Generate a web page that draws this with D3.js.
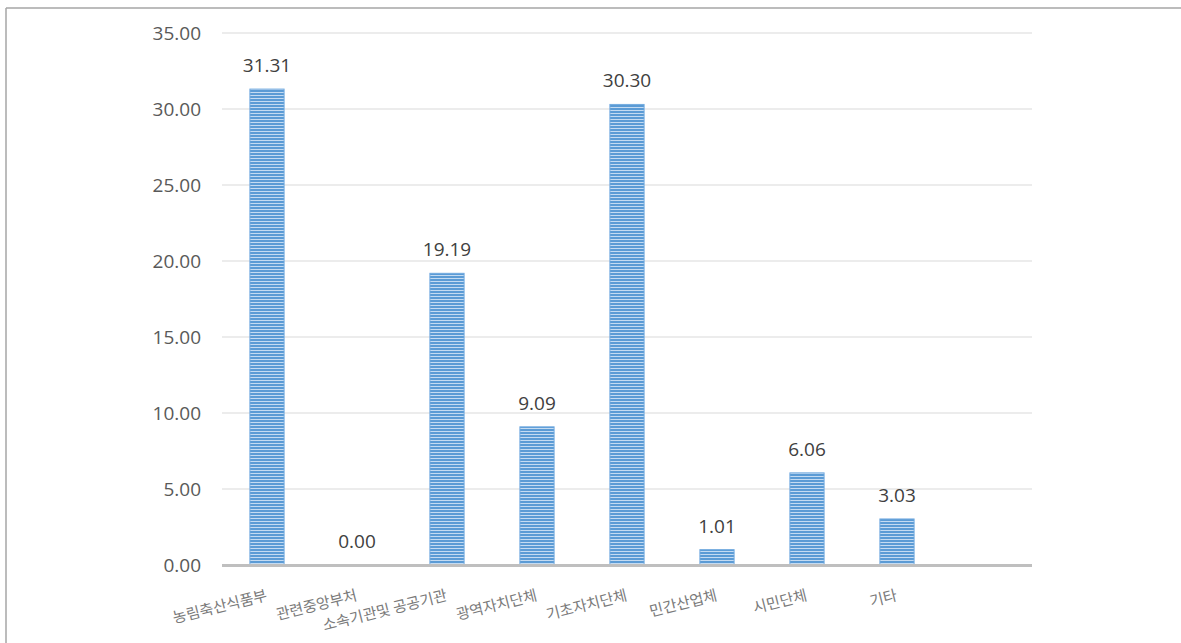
<!DOCTYPE html>
<html>
<head>
<meta charset="utf-8">
<script src="https://cdn.jsdelivr.net/npm/d3@7"></script>
<style>
  html, body { margin: 0; padding: 0; background: #fff; }
  svg { display: block; }
</style>
</head>
<body>
<svg id="chart" width="1181" height="643"></svg>
<script>
// Categories (the last slot is an empty placeholder in the category axis)
const categories = ["농림축산식품부", "관련중앙부처", "소속기관및 공공기관", "광역자치단체", "기초자치단체", "민간산업체", "시민단체", "기타", ""];
const values = [31.31, 0.00, 19.19, 9.09, 30.30, 1.01, 6.06, 3.03, null];
const yTicks = [0, 5, 10, 15, 20, 25, 30, 35];

const svg = d3.select("#chart");
const W = 1181, H = 643;
const margin = { left: 222, right: 1181 - 1032, top: 33, bottom: H - 565 };
const numFont = "'Open Sans', 'Noto Sans', sans-serif";

// frame edges
svg.append("line").attr("x1", 6).attr("x2", W).attr("y1", 8).attr("y2", 8)
  .attr("stroke", "#a6a6a6").attr("stroke-width", 1.5);
svg.append("line").attr("x1", 6).attr("x2", 6).attr("y1", 8).attr("y2", H)
  .attr("stroke", "#a6a6a6").attr("stroke-width", 1.5);

// stripe pattern for bars
const defs = svg.append("defs");
const pat = defs.append("pattern").attr("id", "stripes")
  .attr("patternUnits", "userSpaceOnUse").attr("width", 8).attr("height", 3);
pat.append("rect").attr("width", 8).attr("height", 3).attr("fill", "#5b9bd5");
pat.append("rect").attr("y", 2).attr("width", 8).attr("height", 1).attr("fill", "#c4dbf2");

const x = d3.scaleBand().domain(categories)
  .range([margin.left, W - margin.right]).paddingInner(0.62).paddingOuter(0.31);
const y = d3.scaleLinear().domain([0, 35]).range([H - margin.bottom, margin.top]);

// gridlines
svg.append("g").selectAll("line").data(yTicks.filter(t => t > 0)).join("line")
  .attr("x1", margin.left).attr("x2", W - margin.right)
  .attr("y1", d => y(d)).attr("y2", d => y(d))
  .attr("stroke", "#d9d9d9").attr("stroke-width", 1);

// y axis labels
const yAxis = d3.axisLeft(y).tickValues(yTicks).tickFormat(d3.format(".2f")).tickSize(0).tickPadding(21);
const gy = svg.append("g").attr("transform", `translate(${margin.left},0)`).call(yAxis);
gy.select(".domain").remove();
gy.selectAll("text").attr("fill", "#595959").style("font-family", numFont).style("font-size", "19px");

// bars
const data = categories.map((c, i) => ({ c, v: values[i] })).filter(d => d.v !== null);
svg.append("g").selectAll("rect").data(data).join("rect")
  .attr("x", d => x(d.c)).attr("width", x.bandwidth())
  .attr("y", d => y(d.v)).attr("height", d => y(0) - y(d.v))
  .attr("fill", "url(#stripes)").attr("stroke", "#72aadf").attr("stroke-width", 1);

// value labels
svg.append("g").selectAll("text").data(data).join("text")
  .attr("x", d => x(d.c) + x.bandwidth() / 2).attr("y", d => y(d.v) - 17)
  .attr("text-anchor", "middle").attr("fill", "#404040")
  .style("font-family", numFont).style("font-size", "19px")
  .text(d => d3.format(".2f")(d.v));

// category axis line
svg.append("line").attr("x1", margin.left).attr("x2", W - margin.right)
  .attr("y1", y(0) + 0.5).attr("y2", y(0) + 0.5)
  .attr("stroke", "#bfbfbf").attr("stroke-width", 3);

// category labels, rotated, each ending at its tick
const xAxis = d3.axisBottom(x).tickSize(0).tickPadding(0);
const gx = svg.append("g").attr("transform", `translate(0,${y(0)})`).call(xAxis);
gx.select(".domain").remove();
gx.selectAll("text")
  .attr("fill", "#7a7a7a")
  .style("font-family", "'Noto Sans CJK KR', sans-serif").style("font-size", "15px")
  .attr("text-anchor", "end")
  .attr("dy", null).attr("y", 0)
  .attr("transform", "translate(1,35) rotate(-14)");
</script>
</body>
</html>
